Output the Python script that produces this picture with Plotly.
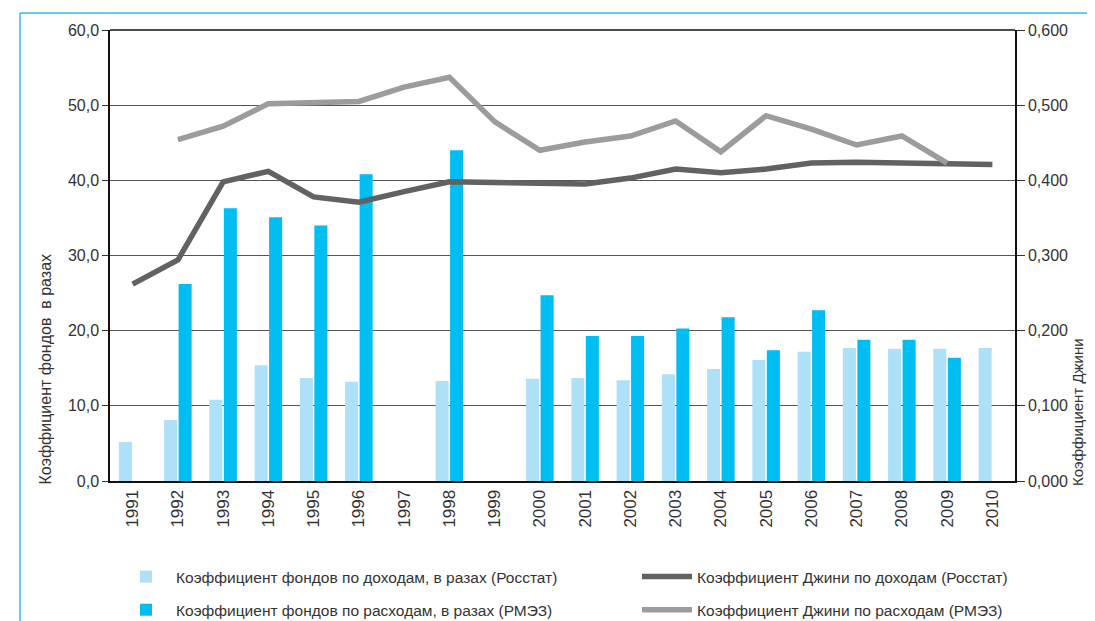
import plotly.graph_objects as go

years = [str(y) for y in range(1991, 2011)]

# Коэффициент фондов по доходам (Росстат), в разах
funds_income = [5.2, 8.1, 10.8, 15.4, 13.7, 13.2, None, 13.3, None, 13.6,
                13.7, 13.4, 14.2, 14.9, 16.1, 17.2, 17.7, 17.6, 17.6, 17.7]
# Коэффициент фондов по расходам (РМЭЗ), в разах
funds_expend = [None, 26.2, 36.3, 35.1, 34.0, 40.8, None, 44.0, None, 24.7,
                19.3, 19.3, 20.3, 21.8, 17.4, 22.7, 18.8, 18.8, 16.4, None]
# Коэффициент Джини по доходам (Росстат)
gini_income = [0.262, 0.294, 0.398, 0.412, 0.378, 0.371, 0.385, 0.398, 0.397, 0.396,
               0.395, 0.403, 0.415, 0.410, 0.415, 0.423, 0.424, 0.423, 0.422, 0.421]
# Коэффициент Джини по расходам (РМЭЗ)
gini_expend = [None, 0.454, 0.472, 0.502, 0.503, 0.505, 0.524, 0.537, 0.478, 0.440,
               0.451, 0.459, 0.479, 0.438, 0.486, 0.468, 0.447, 0.459, 0.423, None]

left_ticks = [0, 10, 20, 30, 40, 50, 60]
left_labels = ["0,0", "10,0", "20,0", "30,0", "40,0", "50,0", "60,0"]
right_ticks = [0, 0.1, 0.2, 0.3, 0.4, 0.5, 0.6]
right_labels = ["0,000", "0,100", "0,200", "0,300", "0,400", "0,500", "0,600"]

FONT = "Liberation Sans, Arial, sans-serif"
TXT = "#333333"

OFF = 8  # default page body margin
W, H = 1095 - OFF, 621 - OFF
L, T = 110 - OFF, 30 - OFF
pw, ph = 905, 451
R = W - L - pw
B = H - T - ph


def px(X):
    return (X - OFF - L) / pw


def py(Y):
    return (H - B - (Y - OFF)) / ph


def cx(X):
    return (X - OFF) / W


def cy(Y):
    return 1 - (Y - OFF) / H


fig = go.Figure()
fig.add_trace(go.Bar(x=years, y=funds_income, name="Коэффициент фондов по доходам, в разах (Росстат)",
                     marker=dict(color="#aee0f8", line=dict(width=0)), legend="legend", legendgroup="a"))
fig.add_trace(go.Bar(x=years, y=funds_expend, name="Коэффициент фондов по расходам, в разах (РМЭЗ)",
                     marker=dict(color="#00bdf2", line=dict(width=0)), legend="legend", legendgroup="b"))
fig.add_trace(go.Scatter(x=years, y=gini_income, yaxis="y2", mode="lines",
                         name="Коэффициент Джини по доходам (Росстат)",
                         line=dict(color="#626264", width=5.5), legend="legend2", legendgroup="c"))
fig.add_trace(go.Scatter(x=years, y=gini_expend, yaxis="y2", mode="lines",
                         name="Коэффициент Джини по расходам (РМЭЗ)",
                         line=dict(color="#9c9c9f", width=5.5), legend="legend2", legendgroup="d"))

fig.update_layout(
    width=W, height=H,
    margin=dict(l=L, r=R, t=T, b=B, autoexpand=False),
    paper_bgcolor="white", plot_bgcolor="white",
    barmode="group", bargap=0.36, bargroupgap=0.1,
    font=dict(family=FONT, color=TXT),
    xaxis=dict(type="category", tickangle=-90, tickfont=dict(size=17, color=TXT),
               showgrid=False, showline=True, linecolor="#111", linewidth=2,
               ticks="", automargin=False),
    yaxis=dict(range=[0, 60], tickvals=left_ticks, ticktext=left_labels,
               tickfont=dict(size=16, color=TXT), showgrid=True, gridcolor="#555555",
               gridwidth=1, showline=True, linecolor="#111", linewidth=1.5,
               ticks="outside", ticklen=6, tickcolor="#333", zeroline=False, automargin=False),
    yaxis2=dict(range=[0, 0.6], tickvals=right_ticks, ticktext=right_labels, overlaying="y",
                side="right", tickfont=dict(size=16, color=TXT), showgrid=False,
                showline=True, linecolor="#111", linewidth=1.5, ticks="outside",
                ticklen=8, tickcolor="#333", zeroline=False, automargin=False),
    legend=dict(xref="container", yref="container", x=cx(116), y=cy(560),
                xanchor="left", yanchor="top", orientation="v",
                font=dict(size=15.5, color=TXT), tracegroupgap=10, itemwidth=50,
                bgcolor="rgba(0,0,0,0)"),
    legend2=dict(xref="container", yref="container", x=cx(637), y=cy(560),
                 xanchor="left", yanchor="top", orientation="v",
                 font=dict(size=15.5, color=TXT), tracegroupgap=10, itemwidth=50,
                 bgcolor="rgba(0,0,0,0)"),
    showlegend=True,
)

# top border of plot area
fig.add_shape(type="line", xref="paper", yref="paper", x0=0, x1=1, y0=1, y1=1,
              line=dict(color="#111", width=1.5))
# light blue outer frame (left & top)
fig.add_shape(type="line", xref="paper", yref="paper", x0=px(20), x1=px(20), y0=py(13), y1=py(625),
              line=dict(color="#3cb9ea", width=1.5))
fig.add_shape(type="line", xref="paper", yref="paper", x0=px(20), x1=px(1093), y0=py(13), y1=py(13),
              line=dict(color="#3cb9ea", width=1.5))

# axis titles
fig.add_annotation(text="Коэффициент фондов  в разах", xref="paper", yref="paper",
                   x=px(45), y=py(487), textangle=-90, xanchor="center", yanchor="bottom",
                   showarrow=False, font=dict(size=16, color=TXT, family=FONT))
fig.add_annotation(text="Коэффициент Джини", xref="paper", yref="paper",
                   x=px(1077), y=py(488), textangle=-90, xanchor="center", yanchor="bottom",
                   showarrow=False, font=dict(size=15, color=TXT, family=FONT))

fig.write_html("out.html")
